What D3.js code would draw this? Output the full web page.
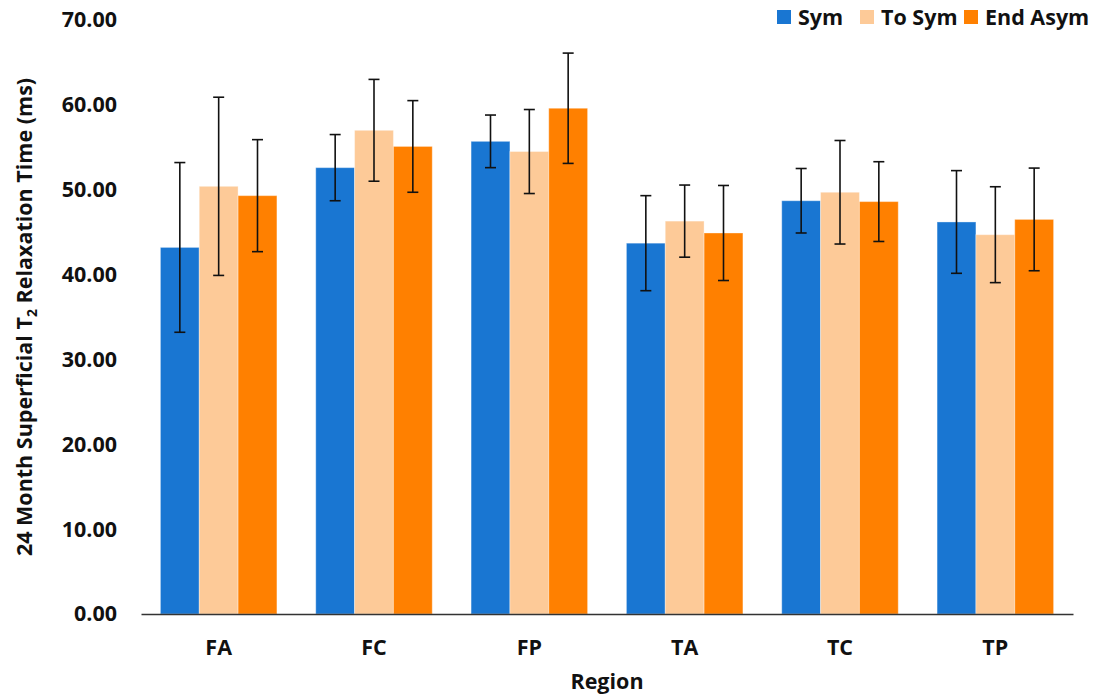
<!DOCTYPE html>
<html>
<head>
<meta charset="utf-8">
<script src="https://cdn.jsdelivr.net/npm/d3@7"></script>
<style>
  body { margin: 0; background: #fff; }
  text { font-family: "Open Sans", sans-serif; font-weight: 700; fill: #111; }
</style>
</head>
<body>
<div id="vis"></div>
<script>
// data
var regions = ['FA', 'FC', 'FP', 'TA', 'TC', 'TP'];
var groups = ['Sym', 'To Sym', 'End Asym'];
var symMean = [43.2, 52.6, 55.7, 43.7, 48.7, 46.2];
var symErr = [10.0, 3.9, 3.1, 5.6, 3.8, 6.05];
var toSymMean = [50.4, 57.0, 54.5, 46.3, 49.7, 44.7];
var toSymErr = [10.5, 6.0, 4.95, 4.25, 6.1, 5.65];
var endAsymMean = [49.3, 55.1, 59.6, 44.9, 48.6, 46.5];
var endAsymErr = [6.6, 5.4, 6.5, 5.6, 4.7, 6.05];
var yTicks = [0, 10, 20, 30, 40, 50, 60, 70];

var colors = ['#1976d2', '#fdca98', '#ff8000'];

var width = 1101;
var height = 696;
var margin = { top: 20, right: 28, bottom: 82, left: 141 };
var fs = 21.5;

var svg = d3.select('#vis')
  .append('svg')
  .attr('width', width)
  .attr('height', height);

var x0 = d3.scaleBand()
  .domain(regions)
  .range([margin.left, width - margin.right])
  .paddingInner(0.25)
  .paddingOuter(0.125);

var x1 = d3.scaleBand()
  .domain(groups)
  .range([0, x0.bandwidth()]);

var y = d3.scaleLinear()
  .domain([0, 70])
  .range([height - margin.bottom, margin.top]);

var means = [symMean, toSymMean, endAsymMean];
var errs = [symErr, toSymErr, endAsymErr];

// flatten into one row per bar
var rows = [];
regions.forEach(function(r, i) {
  groups.forEach(function(g, j) {
    rows.push({ region: r, group: g, idx: j, value: means[j][i], err: errs[j][i] });
  });
});

// bars
svg.selectAll('.bar')
  .data(rows)
  .enter().append('rect')
  .attr('class', 'bar')
  .attr('x', function(d) { return x0(d.region) + x1(d.group); })
  .attr('y', function(d) { return y(d.value); })
  .attr('width', x1.bandwidth())
  .attr('height', function(d) { return y(0) - y(d.value); })
  .attr('fill', function(d) { return colors[d.idx]; })
  .attr('stroke', 'rgba(255,255,255,0.35)')
  .attr('stroke-width', 1);

// error bars
var capW = 5.5;
var eb = svg.selectAll('.err')
  .data(rows)
  .enter().append('g')
  .attr('class', 'err')
  .attr('transform', function(d) {
    return 'translate(' + (x0(d.region) + x1(d.group) + x1.bandwidth() / 2) + ',0)';
  })
  .attr('stroke', '#111')
  .attr('stroke-width', 1.6);

eb.append('line')
  .attr('y1', function(d) { return y(d.value + d.err); })
  .attr('y2', function(d) { return y(d.value - d.err); });
eb.append('line')
  .attr('x1', -capW).attr('x2', capW)
  .attr('y1', function(d) { return y(d.value + d.err); })
  .attr('y2', function(d) { return y(d.value + d.err); });
eb.append('line')
  .attr('x1', -capW).attr('x2', capW)
  .attr('y1', function(d) { return y(d.value - d.err); })
  .attr('y2', function(d) { return y(d.value - d.err); });

// y axis (labels only)
var yAxis = svg.append('g')
  .attr('transform', 'translate(' + margin.left + ',0)')
  .call(d3.axisLeft(y).tickValues(yTicks).tickFormat(d3.format('.2f')).tickSize(0).tickPadding(24));
yAxis.select('.domain').remove();
yAxis.selectAll('text')
  .attr('font-size', fs)
  .attr('font-family', null)
  .attr('fill', '#111');

// x axis
var xAxis = svg.append('g')
  .attr('transform', 'translate(0,' + y(0) + ')')
  .call(d3.axisBottom(x0).tickSize(0).tickPadding(26));
xAxis.select('.domain').attr('stroke', '#333').attr('stroke-width', 1.5);
xAxis.selectAll('text')
  .attr('font-size', fs)
  .attr('font-family', null)
  .attr('fill', '#111');

// axis titles
svg.append('text')
  .attr('x', (margin.left + width - margin.right) / 2)
  .attr('y', 689)
  .attr('text-anchor', 'middle')
  .attr('font-size', fs)
  .text('Region');

var yTitle = svg.append('text')
  .attr('transform', 'translate(32,' + (y(0) + y(70)) / 2 + ') rotate(-90)')
  .attr('text-anchor', 'middle')
  .attr('font-size', fs);
yTitle.append('tspan').text('24 Month Superficial T');
yTitle.append('tspan').attr('font-size', 14).attr('dy', 5).text('2');
yTitle.append('tspan').attr('dy', -5).text(' Relaxation Time (ms)');

// legend
var legendX = [777, 860, 964];
var legend = svg.selectAll('.legend')
  .data(groups)
  .enter().append('g')
  .attr('class', 'legend')
  .attr('transform', function(d, i) { return 'translate(' + legendX[i] + ',10)'; });
legend.append('rect')
  .attr('width', 14)
  .attr('height', 14)
  .attr('fill', function(d, i) { return colors[i]; });
legend.append('text')
  .attr('x', 21)
  .attr('y', 15)
  .attr('font-size', fs)
  .text(function(d) { return d; });
</script>
</body>
</html>
